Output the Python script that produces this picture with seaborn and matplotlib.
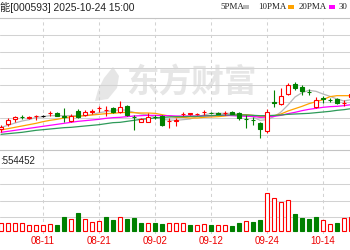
import numpy as np
import pandas as pd
import matplotlib
matplotlib.use("Agg")
import matplotlib.pyplot as plt
import seaborn as sns
from matplotlib.patches import Rectangle, Polygon

# ---------------- data ----------------
dates = ["08-01", "08-04", "08-05", "08-06", "08-07", "08-08", "08-11", "08-12", "08-13", "08-14",
         "08-15", "08-18", "08-19", "08-20", "08-21", "08-22", "08-25", "08-26", "08-27", "08-28",
         "08-29", "09-01", "09-02", "09-03", "09-04", "09-05", "09-08", "09-09", "09-10", "09-11",
         "09-12", "09-15", "09-16", "09-17", "09-18", "09-19", "09-22", "09-23", "09-24", "09-25",
         "09-26", "09-29", "09-30", "10-09", "10-10", "10-13", "10-14", "10-15", "10-16", "10-17", "10-20"]

open_ = [8.18, 8.33, 8.48, 8.55, 8.50, 8.56, 8.57, 8.65, 8.66, 8.57,
         8.42, 8.72, 8.60, 8.68, 8.80, 8.74, 8.81, 8.69, 8.87, 8.55,
         8.39, 8.39, 8.55, 8.57, 8.41, 8.42, 8.62, 8.62, 8.62, 8.68,
         8.67, 8.67, 8.65, 8.69, 8.66, 8.49, 8.46, 8.35, 8.12, 8.98,
         8.93, 9.23, 9.53, 9.44, 9.30, 8.84, 9.11, 9.06, 9.07, 8.95, 9.14]
high = [8.30, 8.51, 8.57, 8.60, 8.56, 8.60, 8.60, 8.72, 8.69, 8.81,
        8.63, 8.78, 8.75, 8.78, 8.87, 8.87, 8.84, 9.02, 8.89, 8.59,
        8.51, 8.66, 8.60, 8.59, 8.51, 8.51, 8.69, 8.66, 8.67, 8.74,
        8.69, 8.69, 8.72, 8.72, 8.69, 8.60, 8.54, 8.39, 8.78, 9.35,
        9.41, 9.56, 9.59, 9.50, 9.38, 9.14, 9.17, 9.11, 9.11, 9.05, 9.26]
low = [8.09, 8.27, 8.39, 8.48, 8.48, 8.45, 8.54, 8.57, 8.56, 8.39,
       8.39, 8.51, 8.57, 8.63, 8.69, 8.57, 8.66, 8.66, 8.57, 8.15,
       8.38, 8.39, 8.48, 8.27, 8.21, 8.26, 8.57, 8.60, 8.59, 8.60,
       8.63, 8.62, 8.60, 8.62, 8.45, 8.21, 8.30, 7.91, 8.06, 8.84,
       8.90, 9.20, 9.35, 9.20, 9.20, 8.81, 8.96, 8.99, 8.93, 8.87, 9.11]
close = [8.24, 8.45, 8.54, 8.54, 8.54, 8.58, 8.57, 8.67, 8.57, 8.54,
         8.57, 8.54, 8.69, 8.72, 8.82, 8.76, 8.69, 8.84, 8.60, 8.53,
         8.48, 8.54, 8.53, 8.30, 8.43, 8.44, 8.64, 8.65, 8.64, 8.70,
         8.65, 8.63, 8.67, 8.63, 8.51, 8.47, 8.44, 8.18, 8.69, 8.95,
         9.17, 9.50, 9.41, 9.32, 9.28, 9.05, 9.09, 9.04, 8.96, 8.97, 9.23]

ma5 = [8.23, 8.29, 8.36, 8.42, 8.46, 8.53, 8.55, 8.58, 8.58, 8.58,
       8.58, 8.58, 8.58, 8.61, 8.67, 8.70, 8.73, 8.76, 8.74, 8.68,
       8.63, 8.60, 8.53, 8.47, 8.45, 8.44, 8.46, 8.48, 8.55, 8.60,
       8.65, 8.65, 8.65, 8.65, 8.62, 8.58, 8.54, 8.44, 8.46, 8.55,
       8.69, 8.90, 9.14, 9.27, 9.34, 9.31, 9.23, 9.16, 9.08, 9.02, 9.06]
ma10 = [8.15, 8.19, 8.23, 8.27, 8.31, 8.35, 8.40, 8.44, 8.47, 8.51,
        8.55, 8.56, 8.58, 8.60, 8.62, 8.64, 8.65, 8.67, 8.68, 8.67,
        8.66, 8.66, 8.65, 8.61, 8.57, 8.53, 8.53, 8.51, 8.51, 8.53,
        8.54, 8.55, 8.57, 8.60, 8.61, 8.61, 8.59, 8.55, 8.55, 8.58,
        8.63, 8.72, 8.79, 8.86, 8.94, 9.00, 9.06, 9.15, 9.18, 9.18, 9.18]
ma20 = [8.08, 8.11, 8.14, 8.17, 8.20, 8.23, 8.26, 8.29, 8.32, 8.35,
        8.38, 8.41, 8.43, 8.45, 8.47, 8.50, 8.52, 8.53, 8.55, 8.57,
        8.58, 8.59, 8.59, 8.58, 8.58, 8.57, 8.57, 8.57, 8.57, 8.58,
        8.58, 8.59, 8.59, 8.58, 8.57, 8.56, 8.56, 8.53, 8.54, 8.56,
        8.59, 8.64, 8.68, 8.73, 8.77, 8.80, 8.83, 8.85, 8.86, 8.88, 8.91]
ma30 = [8.02, 8.04, 8.06, 8.08, 8.11, 8.14, 8.16, 8.18, 8.20, 8.22,
        8.23, 8.25, 8.27, 8.29, 8.31, 8.34, 8.37, 8.38, 8.41, 8.44,
        8.47, 8.49, 8.51, 8.53, 8.54, 8.55, 8.55, 8.56, 8.56, 8.57,
        8.58, 8.59, 8.60, 8.60, 8.60, 8.60, 8.59, 8.58, 8.58, 8.59,
        8.60, 8.62, 8.63, 8.64, 8.65, 8.67, 8.69, 8.71, 8.74, 8.76, 8.79]

volume = [249000, 231000, 231000, 231000, 180000, 180000, 180000, 210000, 180000, 411000,
          351000, 531000, 351000, 279000, 309000, 429000, 330000, 411000, 351000, 381000,
          231000, 249000, 249000, 201000, 249000, 249000, 249000, 171000, 171000, 210000,
          171000, 171000, 171000, 150000, 249000, 300000, 279000, 330000, 1149000, 1011000,
          870000, 951000, 501000, 399000, 360000, 411000, 330000, 210000, 249000, 381000, 429000]
vol_up = [1, 1, 1, 1, 1, 1, 1, 1, 0, 0,
          1, 0, 1, 1, 1, 0, 0, 1, 0, 0,
          0, 1, 0, 0, 1, 1, 1, 0, 1, 1,
          0, 1, 1, 0, 0, 1, 0, 0, 1, 1,
          1, 1, 0, 0, 0, 0, 1, 1, 0, 1, 1]

tick_dates = ["08-11", "08-21", "09-02", "09-12", "09-24", "10-14"]
title_text = "能[000593] 2025-10-24 15:00"
vol_text = ":554452"
ma_names = ["5PMA", "10PMA", "20PMA", "30"]
watermark = "东方财富"

# ---------------- style ----------------
sns.set_theme(style="white")
plt.rcParams["font.family"] = ["Liberation Sans", "Noto Sans CJK SC", "DejaVu Sans"]

RED = "#ff0000"
GREEN = "#008000"
MA_COLORS = ["#b8b8b8", "#ffa200", "#ff00ff", "#2e9a5a"]
GRID = "#d2d2d2"

W, H = 350, 250
fig = plt.figure(figsize=(W / 100, H / 100), dpi=100)
fig.patch.set_facecolor("white")


def fbox(l, t, r, b):
    return [l / W, 1 - b / H, (r - l) / W, (b - t) / H]


axp = fig.add_axes(fbox(0, 18, 350, 150))
axv = fig.add_axes(fbox(0, 150, 350, 234))

df = pd.DataFrame({"date": dates, "open": open_, "high": high, "low": low, "close": close,
                   "ma5": ma5, "ma10": ma10, "ma20": ma20, "ma30": ma30,
                   "volume": volume, "vol_up": vol_up})
df["x"] = np.arange(len(df))
tick_pos = [dates.index(d) for d in tick_dates]

# ---------------- common axes style ----------------
xlim = (-1 / 7, 50 - 1 / 7)
for ax in (axp, axv):
    ax.set_xlim(*xlim)
    ax.set_xticks(tick_pos)
    ax.xaxis.grid(True, color=GRID, lw=0.75, ls=(0, (3, 3)))
    ax.yaxis.grid(True, color=GRID, lw=0.75)
    for s in ("left", "right", "bottom"):
        ax.spines[s].set_visible(False)
    ax.spines["top"].set_color("#c4c4c4")
    ax.spines["top"].set_linewidth(0.8)
    ax.tick_params(left=False, labelleft=False, bottom=False, length=0)
    ax.patch.set_alpha(0)

# ---------------- price panel ----------------
axp.set_ylim(7.55, 11.51)
axp.set_yticks([8.0, 8.5, 9.0, 9.5, 10.0, 10.5, 11.0])
axp.tick_params(labelbottom=False)

# watermark
axp.text(191 / W, 1 - 82 / H, watermark, transform=fig.transFigure, ha="center", va="center",
         fontsize=23.5, fontweight="bold", color="#e6e6e6", family=["Noto Sans CJK SC"], zorder=0.5)
logo = Polygon([(113 / W, 1 - 67 / H), (119 / W, 1 - 76 / H), (117 / W, 1 - 88 / H),
                (108 / W, 1 - 99 / H), (95 / W, 1 - 101 / H), (98 / W, 1 - 90 / H),
                (104 / W, 1 - 78 / H)], closed=True, transform=fig.transFigure,
               facecolor="#e6e6e6", edgecolor="none", zorder=0.5)
axp.add_patch(logo)

# moving averages
for col, c in zip(["ma5", "ma10", "ma20", "ma30"], MA_COLORS):
    sns.lineplot(data=df, x="x", y=col, ax=axp, color=c, lw=0.9, estimator=None, sort=False, zorder=2)
axp.set_xlabel("")
axp.set_ylabel("")

# candles
cols = np.where(df["close"] > df["open"], RED, np.where(df["close"] < df["open"], GREEN, "#000000"))
axp.vlines(df["x"], df["low"], df["high"], colors=cols, lw=0.8, zorder=3)
body_bottom = np.minimum(df["open"], df["close"])
body_h = np.maximum(np.abs(df["close"] - df["open"]), 0.004)
faces = np.where(df["close"] > df["open"], "white", cols)
axp.bar(df["x"], body_h, bottom=body_bottom, width=0.64, color=faces, edgecolor=cols,
        linewidth=0.8, zorder=4)

# ---------------- volume panel ----------------
axv.set_ylim(-91000, 2454000)
axv.set_yticks([409000, 909000, 1409000, 1909000])
vcols = np.where(df["vol_up"] == 1, RED, GREEN)
vfaces = np.where(df["vol_up"] == 1, "white", GREEN)
axv.bar(df["x"], df["volume"], width=0.6, color=vfaces, edgecolor=vcols, linewidth=0.8, zorder=3)
axv.set_xticklabels(tick_dates, color="#ee0000", fontsize=7)
axv.tick_params(axis="x", pad=1.5, labelbottom=True)

# ---------------- texts ----------------
fig.text(0.5 / W, 1 - 7 / H, title_text, ha="left", va="center", fontsize=7.4, color="#222222")
fig.text(0.5 / W, 1 - 161 / H, vol_text, ha="left", va="center", fontsize=7, color="#222222")

lx = [220, 257.7, 298.3, 338.3]
dx = [243, 288.3, 329]
for i, name in enumerate(ma_names):
    fig.text(lx[i] / W, 1 - 7 / H, name, ha="left", va="center", fontsize=6.4,
             family=["Liberation Serif"], color="#222222")
    if i < 3:
        fig.add_artist(Rectangle((dx[i] / W, 1 - 8.5 / H), 5.5 / W, 3 / H, transform=fig.transFigure,
                                 facecolor=MA_COLORS[i], edgecolor="none"))

fig.savefig("out.png", dpi=100)
